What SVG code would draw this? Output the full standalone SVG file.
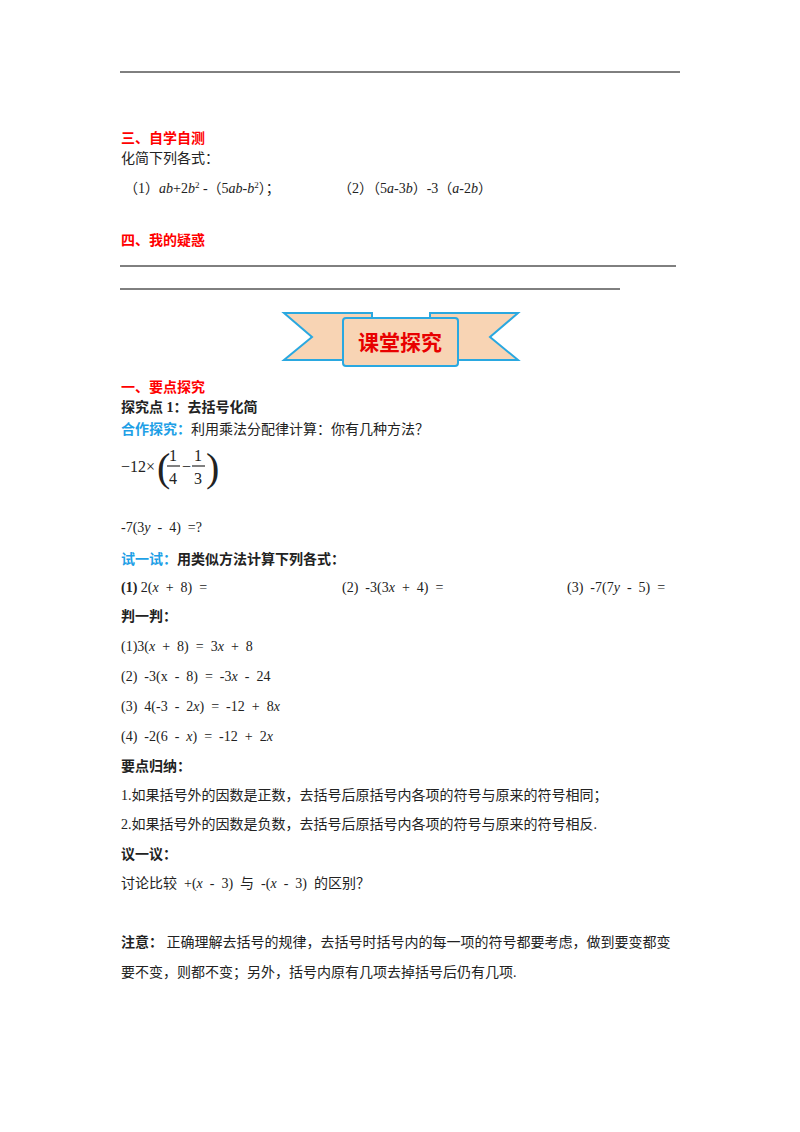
<svg xmlns="http://www.w3.org/2000/svg" width="800" height="1132" viewBox="0 0 800 1132">
<style>
text{font-family:"Liberation Serif","Noto Sans CJK SC",serif;font-size:14px;fill:#222}
.c{font-family:"Noto Sans CJK SC",sans-serif}
.r{fill:#f00;font-weight:bold;font-family:"Noto Sans CJK SC",sans-serif}
.b{font-weight:bold}
.bl{fill:#1ea0e6;font-weight:bold;font-family:"Noto Sans CJK SC",sans-serif}
.i{font-style:italic}
.sup{font-size:9px}
.f{font-size:16px}
.par{font-size:40px;font-weight:100}
.ln{stroke:#000;stroke-width:1}
</style>
<rect width="800" height="1132" fill="#fff"/>
<line class="ln" x1="120" y1="72" x2="680" y2="72" stroke-width="1.5"/>
<text x="121" y="143" class="r">三、自学自测</text>
<text x="121" y="163" class="c">化简下列各式：</text>
<text x="124" y="193">（1）<tspan class="i">ab</tspan>+2<tspan class="i">b</tspan><tspan class="sup" dy="-5">2</tspan><tspan dy="5"> -（5</tspan><tspan class="i">ab</tspan>-<tspan class="i">b</tspan><tspan class="sup" dy="-5">2</tspan><tspan dy="5">）；</tspan></text>
<text x="338" y="193">（2）（5<tspan class="i">a</tspan>-3<tspan class="i">b</tspan>）-3（<tspan class="i">a</tspan>-2<tspan class="i">b</tspan>）</text>
<text x="121" y="245" class="r">四、我的疑惑</text>
<line class="ln" x1="120" y1="266" x2="676" y2="266"/>
<line class="ln" x1="120" y1="289" x2="620" y2="289"/>
<g id="banner">
<polygon points="284,313 372,313 372,360 284,360 312,337" fill="#f8d4b4" stroke="#2aa8e0" stroke-width="2"/>
<polygon points="518,313 430,313 430,360 518,360 490,337" fill="#f8d4b4" stroke="#2aa8e0" stroke-width="2"/>
<rect x="343" y="318" width="115" height="48" rx="3" fill="#f8d4b4" stroke="#2aa8e0" stroke-width="2"/>
<text x="400" y="350" text-anchor="middle" style="font-size:21px;fill:#e80000;font-weight:bold;font-family:'Noto Sans CJK SC',sans-serif">课堂探究</text>
</g>
<text x="121" y="392" class="r">一、要点探究</text>
<text x="121" y="412" class="b">探究点 1：去括号化简</text>
<text x="121" y="434"><tspan class="bl">合作探究：</tspan>利用乘法分配律计算：你有几种方法？</text>
<text x="121" y="472" class="f">−12×</text>
<text x="157" y="481" class="par">(</text>
<text x="206" y="481" class="par">)</text>
<text x="169" y="461" class="f">1</text>
<line class="ln" x1="167" y1="466" x2="180" y2="466"/>
<text x="169" y="484" class="f">4</text>
<text x="182" y="472" class="f">−</text>
<text x="194" y="461" class="f">1</text>
<line class="ln" x1="192" y1="466" x2="205" y2="466"/>
<text x="194" y="484" class="f">3</text>
<text x="121" y="532" xml:space="preserve">-7(3<tspan class="i">y</tspan>  -  4)  =?</text>
<text x="121" y="564"><tspan class="bl">试一试：</tspan><tspan class="b">用类似方法计算下列各式：</tspan></text>
<text x="121" y="592" xml:space="preserve"><tspan class="b">(1)</tspan> 2(<tspan class="i">x</tspan>  +  8)  =</text>
<text x="342" y="592" xml:space="preserve">(2)  -3(3<tspan class="i">x</tspan>  +  4)  =</text>
<text x="567" y="592" xml:space="preserve">(3)  -7(7<tspan class="i">y</tspan>  -  5)  =</text>
<text x="121" y="621" class="b">判一判：</text>
<text x="121" y="651" xml:space="preserve">(1)3(<tspan class="i">x</tspan>  +  8)  =  3<tspan class="i">x</tspan>  +  8</text>
<text x="121" y="681" xml:space="preserve">(2)  -3(x  -  8)  =  -3<tspan class="i">x</tspan>  -  24</text>
<text x="121" y="711" xml:space="preserve">(3)  4(-3  -  2<tspan class="i">x</tspan>)  =  -12  +  8<tspan class="i">x</tspan></text>
<text x="121" y="741" xml:space="preserve">(4)  -2(6  -  <tspan class="i">x</tspan>)  =  -12  +  2<tspan class="i">x</tspan></text>
<text x="121" y="771" class="b">要点归纳：</text>
<text x="121" y="800">1.如果括号外的因数是正数，去括号后原括号内各项的符号与原来的符号相同；</text>
<text x="121" y="829">2.如果括号外的因数是负数，去括号后原括号内各项的符号与原来的符号相反.</text>
<text x="121" y="859" class="b">议一议：</text>
<text x="121" y="888" xml:space="preserve">讨论比较  +(<tspan class="i">x</tspan>  -  3)  与  -(<tspan class="i">x</tspan>  -  3)  的区别？</text>
<text x="121" y="947"><tspan class="b">注意：</tspan> 正确理解去括号的规律，去括号时括号内的每一项的符号都要考虑，做到要变都变</text>
<text x="121" y="977">要不变，则都不变；另外，括号内原有几项去掉括号后仍有几项.</text>
</svg>
